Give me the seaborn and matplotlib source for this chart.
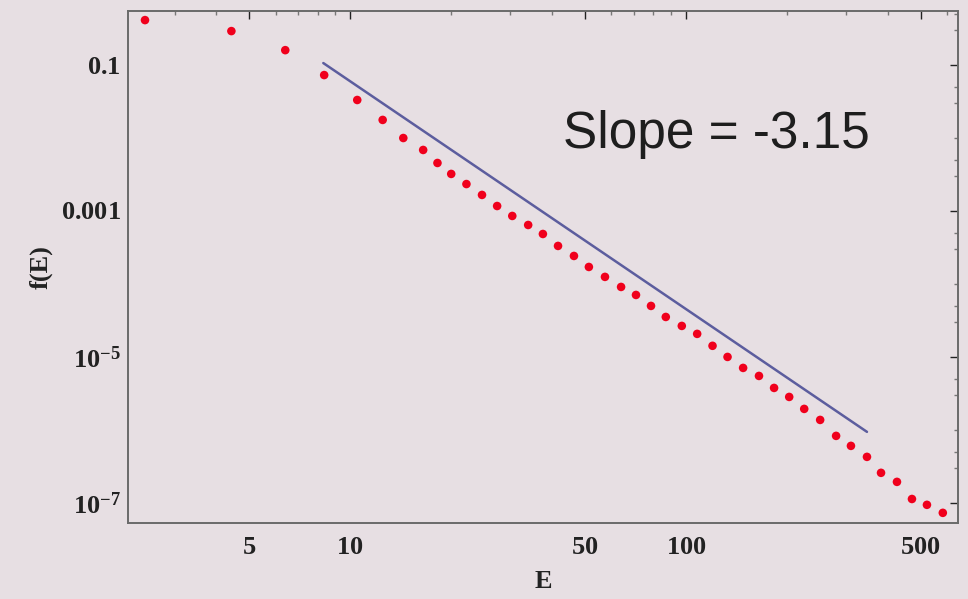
import numpy as np
import pandas as pd
import matplotlib
matplotlib.use("Agg")
import matplotlib.pyplot as plt
import matplotlib.ticker as mticker
import seaborn as sns

energy = [2.45, 4.43, 6.41, 8.37, 10.5, 12.5, 14.4, 16.5, 18.2, 20.0,
          22.2, 24.7, 27.4, 30.4, 33.9, 37.5, 41.6, 46.4, 51.4, 57.4,
          64.1, 71.0, 78.7, 87.1, 97.2, 108, 120, 133, 148, 165,
          183, 203, 225, 251, 280, 310, 346, 381, 425, 471,
          522, 582]
f_e = [0.413, 0.292, 0.160, 0.0729, 0.0332, 0.0177, 0.0100, 0.00686, 0.00455, 0.00322,
       0.00234, 0.00166, 0.00117, 8.55e-4, 6.43e-4, 4.84e-4, 3.32e-4, 2.42e-4, 1.71e-4, 1.25e-4,
       9.1e-5, 7.07e-5, 5.0e-5, 3.53e-5, 2.66e-5, 2.07e-5, 1.42e-5, 1.0e-5, 7.07e-6, 5.49e-6,
       3.76e-6, 2.83e-6, 1.94e-6, 1.37e-6, 8.28e-7, 6.04e-7, 4.27e-7, 2.58e-7, 1.94e-7, 1.13e-7,
       9.4e-8, 7.3e-8]

# power law fit, endpoints of the drawn segment
fit_E = [8.32, 346]
fit_f = [0.1065, 9.4e-7]

x_ticks = [5, 10, 50, 100, 500]
y_ticks = [1e-1, 1e-3, 1e-5, 1e-7]
y_labels = [r"$\mathbf{0.1}$", r"$\mathbf{0.001}$", r"$\mathbf{10^{-5}}$", r"$\mathbf{10^{-7}}$"]

bg = "#e7dfe3"

sns.set_style("white")
plt.rcParams["font.family"] = ["Liberation Serif", "DejaVu Serif"]
plt.rcParams["mathtext.fontset"] = "custom"
plt.rcParams["mathtext.rm"] = "Liberation Serif"
plt.rcParams["mathtext.bf"] = "Liberation Serif:bold"

fig = plt.figure(figsize=(9.68, 5.99), dpi=100, facecolor=bg)
ax = fig.add_axes([0.1322, 0.1269, 0.8575, 0.8547])
ax.set_facecolor(bg)

pts = pd.DataFrame({"E": energy, "f": f_e})
fit = pd.DataFrame({"E": fit_E, "f": fit_f})

sns.lineplot(data=fit, x="E", y="f", ax=ax, color="#5c5d9e", linewidth=1.8)
sns.scatterplot(data=pts, x="E", y="f", ax=ax, color="#f0001c", s=38,
                edgecolor="none", zorder=3)

ax.set(xscale="log", yscale="log")
ax.set_xlim(2.18, 646)
ax.set_ylim(5.3e-8, 0.55)

ax.xaxis.set_major_locator(mticker.FixedLocator(x_ticks))
ax.xaxis.set_major_formatter(mticker.FixedFormatter([r"$\mathbf{%d}$" % v for v in x_ticks]))
ax.xaxis.set_minor_locator(mticker.LogLocator(base=10, subs=np.arange(2, 10)))
ax.xaxis.set_minor_formatter(mticker.NullFormatter())
ax.yaxis.set_major_locator(mticker.FixedLocator(y_ticks))
ax.yaxis.set_major_formatter(mticker.FixedFormatter(y_labels))
ax.yaxis.set_minor_locator(mticker.LogLocator(base=10, subs=[1.0, 3.0, 5.0], numticks=20))
ax.yaxis.set_minor_formatter(mticker.NullFormatter())

ax.tick_params(which="both", direction="in", top=True, right=True, color="#777777", width=1)
ax.tick_params(which="major", length=6, labelsize=19, colors="#222222", labelcolor="#222222")
ax.tick_params(which="minor", length=3)
ax.tick_params(axis="x", which="major", pad=10)
ax.tick_params(axis="y", which="major", pad=5)

for s in ax.spines.values():
    s.set_color("#6a6a6a")
    s.set_linewidth(1.4)

ax.set_xlabel("E", fontsize=19, fontweight="bold", color="#222222", labelpad=8)
ax.set_ylabel("f(E)", fontsize=19, fontweight="bold", color="#222222", labelpad=6)

ax.text(0.524, 0.732, "Slope = -3.15", transform=ax.transAxes, fontsize=37,
        family=["Liberation Sans", "DejaVu Sans"], color="#1e1e1e", va="baseline")

fig.savefig("out.png", dpi=100, facecolor=bg)
